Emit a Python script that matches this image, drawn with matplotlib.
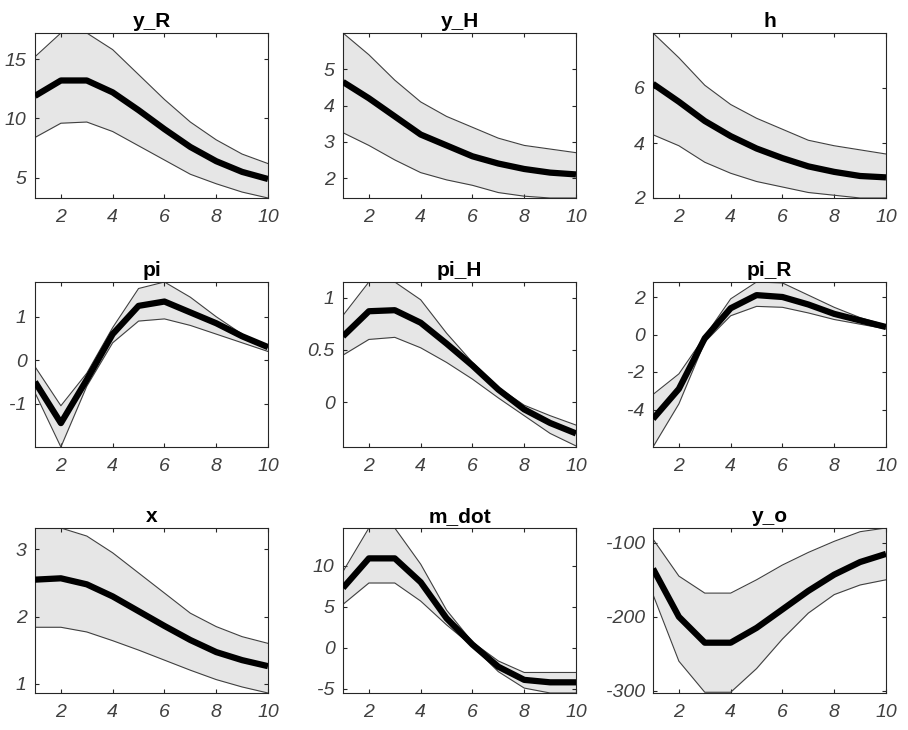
import matplotlib
matplotlib.use("Agg")
import matplotlib.pyplot as plt
import numpy as np

periods = [1, 2, 3, 4, 5, 6, 7, 8, 9, 10]
titles = ["y_R", "y_H", "h", "pi", "pi_H", "pi_R", "x", "m_dot", "y_o"]

y_R_med = [11.9, 13.2, 13.2, 12.2, 10.7, 9.1, 7.6, 6.4, 5.5, 4.9]
y_R_up = [15.2, 17.2, 17.2, 15.8, 13.7, 11.6, 9.7, 8.2, 7.0, 6.2]
y_R_lo = [8.4, 9.6, 9.7, 8.9, 7.7, 6.5, 5.3, 4.5, 3.8, 3.3]

y_H_med = [4.65, 4.2, 3.7, 3.2, 2.9, 2.6, 2.4, 2.25, 2.15, 2.1]
y_H_up = [6.0, 5.4, 4.7, 4.1, 3.7, 3.4, 3.1, 2.9, 2.8, 2.7]
y_H_lo = [3.25, 2.9, 2.5, 2.15, 1.95, 1.8, 1.6, 1.5, 1.45, 1.45]

h_med = [6.15, 5.5, 4.8, 4.25, 3.8, 3.45, 3.15, 2.95, 2.8, 2.75]
h_up = [8.0, 7.1, 6.1, 5.4, 4.9, 4.5, 4.1, 3.9, 3.75, 3.6]
h_lo = [4.3, 3.9, 3.3, 2.9, 2.6, 2.4, 2.2, 2.1, 2.0, 2.0]

pi_med = [-0.5, -1.45, -0.45, 0.6, 1.25, 1.35, 1.1, 0.85, 0.55, 0.3]
pi_up = [-0.15, -1.05, -0.3, 0.75, 1.65, 1.8, 1.45, 1.0, 0.6, 0.3]
pi_lo = [-0.75, -2.0, -0.6, 0.4, 0.9, 0.95, 0.8, 0.6, 0.4, 0.2]

pi_H_med = [0.63, 0.87, 0.88, 0.76, 0.56, 0.35, 0.12, -0.07, -0.2, -0.3]
pi_H_up = [0.83, 1.15, 1.15, 0.98, 0.66, 0.38, 0.14, -0.03, -0.13, -0.22]
pi_H_lo = [0.45, 0.6, 0.62, 0.52, 0.38, 0.22, 0.04, -0.13, -0.3, -0.42]

pi_R_med = [-4.5, -2.9, -0.2, 1.4, 2.1, 2.0, 1.6, 1.1, 0.75, 0.4]
pi_R_up = [-3.2, -2.1, -0.1, 1.9, 2.8, 2.75, 2.1, 1.45, 0.9, 0.5]
pi_R_lo = [-6.0, -3.7, -0.4, 1.0, 1.5, 1.45, 1.15, 0.8, 0.55, 0.3]

x_med = [2.55, 2.57, 2.48, 2.3, 2.08, 1.86, 1.65, 1.47, 1.35, 1.26]
x_up = [3.32, 3.32, 3.2, 2.95, 2.65, 2.35, 2.05, 1.85, 1.7, 1.6]
x_lo = [1.84, 1.84, 1.77, 1.64, 1.5, 1.35, 1.2, 1.06, 0.95, 0.86]

m_dot_med = [7.3, 10.9, 10.9, 8.0, 3.6, 0.4, -2.3, -3.9, -4.2, -4.2]
m_dot_up = [9.3, 14.6, 14.6, 10.2, 4.6, 0.7, -1.6, -3.0, -3.0, -3.0]
m_dot_lo = [5.3, 7.9, 7.9, 5.7, 2.8, 0.2, -2.9, -4.9, -5.5, -5.5]

y_o_med = [-135, -200, -235, -235, -215, -190, -165, -143, -126, -115]
y_o_up = [-95, -145, -168, -168, -150, -130, -113, -98, -85, -80]
y_o_lo = [-170, -260, -302, -302, -270, -230, -195, -170, -157, -150]

meds = [y_R_med, y_H_med, h_med, pi_med, pi_H_med, pi_R_med, x_med, m_dot_med, y_o_med]
ups = [y_R_up, y_H_up, h_up, pi_up, pi_H_up, pi_R_up, x_up, m_dot_up, y_o_up]
los = [y_R_lo, y_H_lo, h_lo, pi_lo, pi_H_lo, pi_R_lo, x_lo, m_dot_lo, y_o_lo]

ylims = [(3.3, 17.2), (1.45, 6.0), (2, 8), (-2.0, 1.8), (-0.43, 1.15), (-6.0, 2.8),
         (0.86, 3.32), (-5.5, 14.6), (-303, -80)]
yticks = [[5, 10, 15], [2, 3, 4, 5], [2, 4, 6], [-1, 0, 1], [0, 0.5, 1], [-4, -2, 0, 2],
          [1, 2, 3], [-5, 0, 5, 10], [-300, -200, -100]]
xticks = [2, 4, 6, 8, 10]

W, H = 908, 730
fig = plt.figure(figsize=(W / 100, H / 100), dpi=100)
lefts = [35, 343, 653]
tops = [33, 282, 528]
aw, ah = 233, 165

for i in range(9):
    r, c = divmod(i, 3)
    ax = fig.add_axes([lefts[c] / W, (H - tops[r] - ah) / H, aw / W, ah / H])
    x = np.array(periods)
    ax.fill_between(x, los[i], ups[i], color="#e6e6e6", linewidth=0, zorder=1)
    ax.plot(x, ups[i], color="#404040", lw=0.8, zorder=2)
    ax.plot(x, los[i], color="#404040", lw=0.8, zorder=2)
    ax.plot(x, meds[i], color="black", lw=4.5, zorder=3, solid_capstyle="butt")
    ax.set_xlim(1, 10)
    ax.set_ylim(*ylims[i])
    ax.set_xticks(xticks)
    ax.set_yticks(yticks[i])
    ax.set_yticklabels([("%g" % v) for v in yticks[i]])
    ax.tick_params(direction="in", top=True, right=True, length=3, width=0.8,
                   colors="#262626", labelcolor="#404040", labelsize=14)
    ax.tick_params(axis="x", pad=8)
    ax.tick_params(axis="y", pad=6)
    for lab in ax.get_xticklabels() + ax.get_yticklabels():
        lab.set_fontstyle("italic")
        lab.set_fontfamily("Liberation Sans")
    for s in ax.spines.values():
        s.set_color("#262626")
        s.set_linewidth(0.8)
    ax.set_title(titles[i], fontsize=15, fontweight="bold", family="Liberation Sans", pad=4)

fig.savefig("out.png", dpi=100)
